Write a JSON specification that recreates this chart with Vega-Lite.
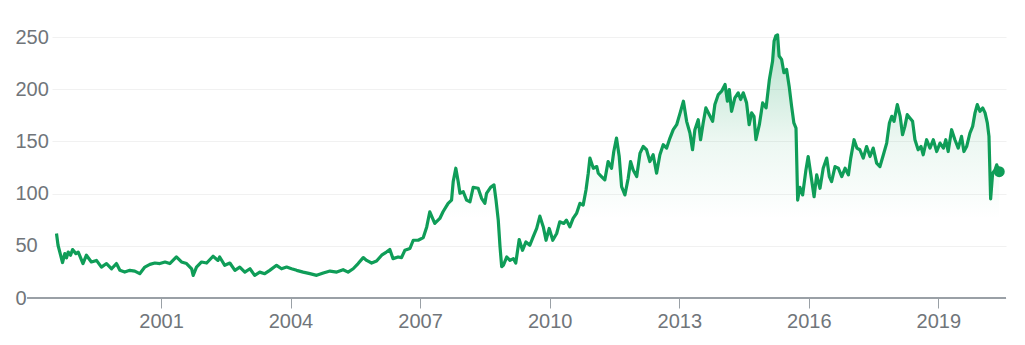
{
  "$schema": "https://vega.github.io/schema/vega-lite/v6.json",
  "width": 954,
  "height": 261,
  "autosize": {"type": "none"},
  "padding": {"left": 52, "top": 37, "right": 19, "bottom": 47},
  "background": "white",
  "config": {
    "view": {"stroke": null},
    "font": "Arial, Liberation Sans, sans-serif"
  },
  "datasets": {
    "prices": [
      {"date": "1998-08-01", "price": 61.8},
      {"date": "1998-08-14", "price": 50.5},
      {"date": "1998-09-21", "price": 34.0},
      {"date": "1998-10-10", "price": 42.5},
      {"date": "1998-10-25", "price": 38.5},
      {"date": "1998-11-08", "price": 44.0},
      {"date": "1998-11-28", "price": 41.0},
      {"date": "1998-12-15", "price": 46.4},
      {"date": "1999-01-12", "price": 42.5},
      {"date": "1999-02-01", "price": 44.0},
      {"date": "1999-03-13", "price": 33.0},
      {"date": "1999-04-11", "price": 41.0},
      {"date": "1999-05-23", "price": 34.5},
      {"date": "1999-07-05", "price": 36.0},
      {"date": "1999-08-16", "price": 29.6},
      {"date": "1999-09-28", "price": 33.0},
      {"date": "1999-11-10", "price": 28.0},
      {"date": "1999-12-21", "price": 33.0},
      {"date": "2000-01-19", "price": 26.5},
      {"date": "2000-02-29", "price": 24.8},
      {"date": "2000-04-12", "price": 26.5},
      {"date": "2000-05-24", "price": 25.8},
      {"date": "2000-07-05", "price": 23.3},
      {"date": "2000-08-17", "price": 29.6},
      {"date": "2000-09-29", "price": 32.2},
      {"date": "2000-11-10", "price": 33.5},
      {"date": "2000-12-22", "price": 33.0},
      {"date": "2001-02-04", "price": 34.5},
      {"date": "2001-03-16", "price": 33.0},
      {"date": "2001-05-11", "price": 39.3},
      {"date": "2001-06-23", "price": 34.5},
      {"date": "2001-08-05", "price": 33.0},
      {"date": "2001-09-17", "price": 28.0},
      {"date": "2001-09-30", "price": 21.7},
      {"date": "2001-10-28", "price": 29.6},
      {"date": "2001-12-10", "price": 34.5},
      {"date": "2002-01-22", "price": 33.5},
      {"date": "2002-03-17", "price": 40.0},
      {"date": "2002-04-28", "price": 36.0},
      {"date": "2002-05-12", "price": 39.3},
      {"date": "2002-06-24", "price": 31.3},
      {"date": "2002-08-06", "price": 33.5},
      {"date": "2002-09-18", "price": 26.5},
      {"date": "2002-10-29", "price": 29.6},
      {"date": "2002-12-11", "price": 24.8},
      {"date": "2003-01-23", "price": 28.0},
      {"date": "2003-03-04", "price": 21.7},
      {"date": "2003-04-16", "price": 24.8},
      {"date": "2003-05-28", "price": 23.3},
      {"date": "2003-07-09", "price": 26.5},
      {"date": "2003-09-05", "price": 31.3},
      {"date": "2003-10-17", "price": 28.0},
      {"date": "2003-11-29", "price": 29.6},
      {"date": "2004-01-10", "price": 28.0},
      {"date": "2004-02-22", "price": 26.5},
      {"date": "2004-04-17", "price": 24.8},
      {"date": "2004-06-13", "price": 23.3},
      {"date": "2004-08-09", "price": 21.7},
      {"date": "2004-10-04", "price": 23.9},
      {"date": "2004-11-30", "price": 25.8},
      {"date": "2005-01-26", "price": 24.8},
      {"date": "2005-03-21", "price": 27.1},
      {"date": "2005-05-02", "price": 24.8},
      {"date": "2005-06-14", "price": 28.0},
      {"date": "2005-07-26", "price": 33.0},
      {"date": "2005-09-07", "price": 38.7},
      {"date": "2005-10-06", "price": 36.0},
      {"date": "2005-11-17", "price": 33.5},
      {"date": "2005-12-29", "price": 35.4},
      {"date": "2006-02-10", "price": 41.0},
      {"date": "2006-03-22", "price": 44.0},
      {"date": "2006-04-20", "price": 46.4},
      {"date": "2006-05-17", "price": 37.7},
      {"date": "2006-06-29", "price": 39.3},
      {"date": "2006-07-28", "price": 38.7},
      {"date": "2006-08-25", "price": 45.7},
      {"date": "2006-10-07", "price": 47.4},
      {"date": "2006-11-04", "price": 55.3},
      {"date": "2006-12-16", "price": 55.3},
      {"date": "2007-01-28", "price": 57.9},
      {"date": "2007-02-26", "price": 68.1},
      {"date": "2007-03-24", "price": 82.6},
      {"date": "2007-05-05", "price": 71.4},
      {"date": "2007-06-17", "price": 76.2},
      {"date": "2007-07-14", "price": 82.6},
      {"date": "2007-08-26", "price": 90.7},
      {"date": "2007-09-24", "price": 93.8},
      {"date": "2007-10-08", "price": 111.5},
      {"date": "2007-10-30", "price": 124.3},
      {"date": "2007-11-19", "price": 111.5},
      {"date": "2007-12-04", "price": 100.3},
      {"date": "2008-01-01", "price": 101.8},
      {"date": "2008-01-29", "price": 93.8},
      {"date": "2008-02-27", "price": 92.2},
      {"date": "2008-03-25", "price": 106.0},
      {"date": "2008-05-06", "price": 105.1},
      {"date": "2008-06-04", "price": 95.5},
      {"date": "2008-07-02", "price": 90.7},
      {"date": "2008-07-16", "price": 100.3},
      {"date": "2008-08-19", "price": 106.0},
      {"date": "2008-09-17", "price": 108.3},
      {"date": "2008-10-04", "price": 93.8},
      {"date": "2008-10-23", "price": 74.6},
      {"date": "2008-11-07", "price": 48.9},
      {"date": "2008-11-21", "price": 30.0},
      {"date": "2008-12-05", "price": 31.3},
      {"date": "2009-01-03", "price": 39.3},
      {"date": "2009-01-30", "price": 36.0},
      {"date": "2009-02-28", "price": 37.7},
      {"date": "2009-03-20", "price": 33.5},
      {"date": "2009-04-18", "price": 56.0},
      {"date": "2009-05-16", "price": 45.7},
      {"date": "2009-06-14", "price": 53.7},
      {"date": "2009-07-17", "price": 50.5},
      {"date": "2009-08-14", "price": 58.5},
      {"date": "2009-09-13", "price": 66.6},
      {"date": "2009-10-10", "price": 78.4},
      {"date": "2009-11-08", "price": 68.1},
      {"date": "2009-12-01", "price": 55.3},
      {"date": "2009-12-28", "price": 66.6},
      {"date": "2010-01-27", "price": 55.3},
      {"date": "2010-03-01", "price": 61.8},
      {"date": "2010-03-27", "price": 73.0},
      {"date": "2010-04-30", "price": 71.4},
      {"date": "2010-05-23", "price": 74.6},
      {"date": "2010-06-20", "price": 68.1},
      {"date": "2010-07-18", "price": 76.2},
      {"date": "2010-08-16", "price": 81.0},
      {"date": "2010-09-14", "price": 90.7},
      {"date": "2010-10-11", "price": 89.0},
      {"date": "2010-11-04", "price": 103.5},
      {"date": "2010-11-23", "price": 119.5},
      {"date": "2010-12-07", "price": 134.0},
      {"date": "2011-01-05", "price": 124.3},
      {"date": "2011-02-03", "price": 125.9},
      {"date": "2011-02-16", "price": 119.5},
      {"date": "2011-03-15", "price": 116.3},
      {"date": "2011-04-12", "price": 113.1},
      {"date": "2011-05-10", "price": 130.7},
      {"date": "2011-06-08", "price": 124.3},
      {"date": "2011-06-27", "price": 140.3},
      {"date": "2011-07-20", "price": 153.2},
      {"date": "2011-08-12", "price": 135.5},
      {"date": "2011-09-01", "price": 106.6},
      {"date": "2011-09-29", "price": 98.7},
      {"date": "2011-10-27", "price": 114.7},
      {"date": "2011-11-16", "price": 130.7},
      {"date": "2011-12-08", "price": 122.7},
      {"date": "2012-01-07", "price": 116.3},
      {"date": "2012-02-04", "price": 138.8},
      {"date": "2012-03-02", "price": 145.1},
      {"date": "2012-03-30", "price": 142.0},
      {"date": "2012-04-27", "price": 130.7},
      {"date": "2012-05-25", "price": 137.2},
      {"date": "2012-06-23", "price": 119.5},
      {"date": "2012-07-21", "price": 137.2},
      {"date": "2012-08-18", "price": 146.8},
      {"date": "2012-09-16", "price": 143.6},
      {"date": "2012-10-14", "price": 153.2},
      {"date": "2012-11-11", "price": 161.2},
      {"date": "2012-12-10", "price": 166.0},
      {"date": "2013-01-08", "price": 177.3},
      {"date": "2013-02-05", "price": 188.5},
      {"date": "2013-03-04", "price": 169.2},
      {"date": "2013-04-01", "price": 158.0},
      {"date": "2013-04-23", "price": 142.0},
      {"date": "2013-05-13", "price": 161.2},
      {"date": "2013-06-10", "price": 170.8},
      {"date": "2013-06-30", "price": 151.6},
      {"date": "2013-07-22", "price": 167.7},
      {"date": "2013-08-14", "price": 182.1},
      {"date": "2013-09-12", "price": 175.6},
      {"date": "2013-10-10", "price": 169.2},
      {"date": "2013-10-29", "price": 185.3},
      {"date": "2013-11-27", "price": 194.9},
      {"date": "2013-12-25", "price": 198.1},
      {"date": "2014-01-23", "price": 204.5},
      {"date": "2014-02-12", "price": 188.5},
      {"date": "2014-02-28", "price": 199.7},
      {"date": "2014-03-19", "price": 178.8},
      {"date": "2014-04-16", "price": 191.7},
      {"date": "2014-05-14", "price": 196.5},
      {"date": "2014-06-04", "price": 190.1},
      {"date": "2014-06-26", "price": 196.5},
      {"date": "2014-07-24", "price": 186.9},
      {"date": "2014-08-15", "price": 166.0},
      {"date": "2014-09-05", "price": 177.3},
      {"date": "2014-09-25", "price": 174.0},
      {"date": "2014-10-11", "price": 151.6},
      {"date": "2014-11-09", "price": 166.0},
      {"date": "2014-12-07", "price": 186.9},
      {"date": "2015-01-05", "price": 182.1},
      {"date": "2015-02-02", "price": 209.3},
      {"date": "2015-03-01", "price": 227.0},
      {"date": "2015-03-14", "price": 246.2},
      {"date": "2015-03-28", "price": 251.0},
      {"date": "2015-04-12", "price": 252.0},
      {"date": "2015-04-25", "price": 231.8},
      {"date": "2015-05-16", "price": 228.6},
      {"date": "2015-06-05", "price": 215.8},
      {"date": "2015-06-27", "price": 219.0},
      {"date": "2015-07-19", "price": 202.9},
      {"date": "2015-08-09", "price": 183.6},
      {"date": "2015-08-28", "price": 167.7},
      {"date": "2015-09-15", "price": 162.8},
      {"date": "2015-09-29", "price": 93.8},
      {"date": "2015-10-18", "price": 106.0},
      {"date": "2015-11-10", "price": 98.7},
      {"date": "2015-12-08", "price": 122.7},
      {"date": "2015-12-27", "price": 135.5},
      {"date": "2016-01-17", "price": 119.5},
      {"date": "2016-02-15", "price": 97.0},
      {"date": "2016-03-08", "price": 117.9},
      {"date": "2016-04-05", "price": 105.1},
      {"date": "2016-05-02", "price": 124.3},
      {"date": "2016-06-01", "price": 134.0},
      {"date": "2016-06-23", "price": 116.3},
      {"date": "2016-07-12", "price": 111.5},
      {"date": "2016-08-10", "price": 125.9},
      {"date": "2016-09-07", "price": 124.3},
      {"date": "2016-10-06", "price": 116.3},
      {"date": "2016-11-03", "price": 124.3},
      {"date": "2016-12-01", "price": 117.9},
      {"date": "2016-12-21", "price": 134.0},
      {"date": "2017-01-18", "price": 151.6},
      {"date": "2017-02-11", "price": 143.6},
      {"date": "2017-03-08", "price": 142.0},
      {"date": "2017-04-06", "price": 134.0},
      {"date": "2017-05-04", "price": 145.1},
      {"date": "2017-06-02", "price": 135.5},
      {"date": "2017-06-29", "price": 143.6},
      {"date": "2017-07-28", "price": 129.2},
      {"date": "2017-08-25", "price": 125.9},
      {"date": "2017-09-23", "price": 137.2},
      {"date": "2017-10-21", "price": 148.4},
      {"date": "2017-11-13", "price": 167.7},
      {"date": "2017-12-03", "price": 174.0},
      {"date": "2017-12-22", "price": 169.2},
      {"date": "2018-01-19", "price": 185.3},
      {"date": "2018-02-12", "price": 174.0},
      {"date": "2018-03-04", "price": 156.4},
      {"date": "2018-03-24", "price": 164.4},
      {"date": "2018-04-13", "price": 175.6},
      {"date": "2018-05-05", "price": 172.5},
      {"date": "2018-05-28", "price": 169.2},
      {"date": "2018-06-17", "price": 151.6},
      {"date": "2018-07-14", "price": 142.0},
      {"date": "2018-08-07", "price": 145.1},
      {"date": "2018-08-26", "price": 137.2},
      {"date": "2018-09-24", "price": 151.6},
      {"date": "2018-10-22", "price": 143.6},
      {"date": "2018-11-19", "price": 151.6},
      {"date": "2018-12-18", "price": 140.3},
      {"date": "2019-01-15", "price": 148.4},
      {"date": "2019-02-13", "price": 143.6},
      {"date": "2019-03-05", "price": 151.6},
      {"date": "2019-03-25", "price": 140.3},
      {"date": "2019-04-23", "price": 161.2},
      {"date": "2019-05-21", "price": 151.6},
      {"date": "2019-06-18", "price": 143.6},
      {"date": "2019-07-16", "price": 154.8},
      {"date": "2019-08-05", "price": 140.3},
      {"date": "2019-08-28", "price": 145.1},
      {"date": "2019-09-25", "price": 158.0},
      {"date": "2019-10-18", "price": 164.4},
      {"date": "2019-11-07", "price": 177.3},
      {"date": "2019-11-26", "price": 185.3},
      {"date": "2019-12-19", "price": 178.8},
      {"date": "2020-01-11", "price": 182.1},
      {"date": "2020-01-31", "price": 177.3},
      {"date": "2020-02-19", "price": 167.7},
      {"date": "2020-03-04", "price": 154.8},
      {"date": "2020-03-18", "price": 95.0},
      {"date": "2020-04-04", "price": 119.5},
      {"date": "2020-04-24", "price": 122.7},
      {"date": "2020-05-08", "price": 127.5},
      {"date": "2020-05-30", "price": 121.0}
    ],
    "baseline": [
      {"start": "1997-11-25", "end": "2020-07-26", "value": 0}
    ],
    "last": [
      {"date": "2020-05-30", "price": 121.0}
    ]
  },
  "layer": [
    {
      "data": {"name": "baseline"},
      "mark": {"type": "rule", "color": "#9aa0a6", "strokeWidth": 2},
      "encoding": {
        "x": {"field": "start", "type": "temporal"},
        "x2": {"field": "end"},
        "y": {"field": "value", "type": "quantitative"}
      }
    },
    {
      "data": {"name": "prices"},
      "mark": {
        "type": "area",
        "fill": {
          "gradient": "linear",
          "x1": 0, "y1": 0, "x2": 0, "y2": 1,
          "stops": [
            {"offset": 0, "color": "rgba(15,157,88,0.3)"},
            {"offset": 0.4, "color": "rgba(15,157,88,0.08)"},
            {"offset": 0.7, "color": "rgba(15,157,88,0.0)"},
            {"offset": 1, "color": "rgba(15,157,88,0.0)"}
          ]
        }
      },
      "encoding": {
        "x": {"field": "date", "type": "temporal"},
        "y": {"field": "price", "type": "quantitative"}
      }
    },
    {
      "data": {"name": "prices"},
      "mark": {"type": "line", "color": "#0f9d58", "strokeWidth": 3.2, "strokeJoin": "round"},
      "encoding": {
        "x": {
          "field": "date",
          "type": "temporal",
          "scale": {"type": "utc", "domain": ["1998-06-24", "2020-07-26"]},
          "axis": {
            "title": null,
            "orient": "bottom",
            "domain": false,
            "grid": false,
            "values": [
              {"year": 2001, "month": 1, "date": 1, "utc": true},
              {"year": 2004, "month": 1, "date": 1, "utc": true},
              {"year": 2007, "month": 1, "date": 1, "utc": true},
              {"year": 2010, "month": 1, "date": 1, "utc": true},
              {"year": 2013, "month": 1, "date": 1, "utc": true},
              {"year": 2016, "month": 1, "date": 1, "utc": true},
              {"year": 2019, "month": 1, "date": 1, "utc": true}
            ],
            "format": "%Y",
            "ticks": true,
            "tickSize": 10,
            "tickWidth": 1,
            "tickColor": "#9aa0a6",
            "labelPadding": 3,
            "labelFontSize": 20,
            "labelColor": "#70757a",
            "labelFont": "Arial, Liberation Sans, sans-serif"
          }
        },
        "y": {
          "field": "price",
          "type": "quantitative",
          "scale": {"domain": [0, 250], "nice": false, "zero": true},
          "axis": {
            "title": null,
            "orient": "left",
            "values": [0, 50, 100, 150, 200, 250],
            "domain": false,
            "ticks": false,
            "tickSize": 0,
            "grid": true,
            "gridColor": "#f1f1f1",
            "gridWidth": 1,
            "labelAlign": "left",
            "labelPadding": 37,
            "labelFontSize": 20,
            "labelColor": "#70757a",
            "labelFont": "Arial, Liberation Sans, sans-serif"
          }
        }
      }
    },
    {
      "data": {"name": "last"},
      "mark": {"type": "point", "filled": true, "color": "#0f9d58", "size": 120, "opacity": 1},
      "encoding": {
        "x": {"field": "date", "type": "temporal"},
        "y": {"field": "price", "type": "quantitative"}
      }
    }
  ]
}
